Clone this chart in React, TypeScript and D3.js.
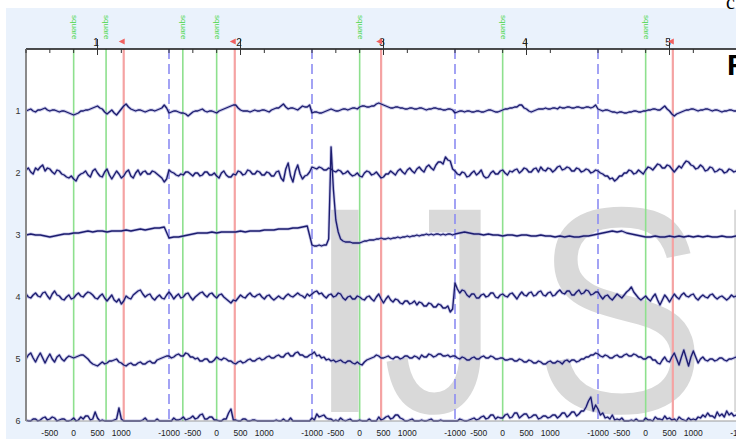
import React from 'react';
import * as d3 from 'd3';

const W = 736;
const H = 439;

const channelLabels = ['1', '2', '3', '4', '5', '6'];
const epochLabels = ['1', '2', '3', '4', '5'];
const tickTimes = [-1000, -500, 0, 500, 1000];
const epochSpan = 3000;
const epochsDrawn = 6;

const greenMarkers = [
  { epoch: 0, t: 0 }, { epoch: 0, t: 680 }, { epoch: 1, t: -710 }, { epoch: 1, t: 0 },
  { epoch: 2, t: 0 }, { epoch: 3, t: 0 }, { epoch: 4, t: 0 },
];
const redMarkers = [
  { epoch: 0, t: 1050 }, { epoch: 1, t: 380 }, { epoch: 2, t: 450 }, { epoch: 4, t: 570 },
];

// channel traces: one array per epoch (samples evenly spread over -1000..2000 ms)
const ch1 = [
  [0, 1, 2, 0, -1, 1, 1, 2, 3, 1, 0, 1, 1, 0, -1, 0, 0, -1, -2, -3, -4, -3, -2, 0, 0, 1, 1, 2, 3, 4,
    5, 3, 2, -1, -3, -1, 1, -2, -4, -1, 2, 5, 7, 4, 2, 1, 0, 1, 1, 0, -1, 0, 1, 1, 0, 1, 2, 3, 6, 3],
  [-2, -1, 0, 0, -1, -2, -2, -3, -5, -3, -1, 0, 0, 1, 2, 0, -1, 0, 0, -1, -2, 0, 1, 2, 3, 4, 5, 6, 6, 3,
    1, 0, 0, 0, -1, 0, 1, 0, 0, 1, 1, 0, -1, 1, 2, 3, 3, 5, 7, 4, 2, 3, 3, 2, 1, 3, 5, 4, 4, 6],
  [-2, -1, -1, -2, -2, -1, 0, 1, 2, 1, 0, 0, 1, 2, 2, 1, 2, 3, 3, 2, 4, 5, 5, 4, 4, 5, 5, 7, 8, 7,
    6, 5, 4, 3, 3, 4, 4, 3, 3, 2, 2, 3, 3, 2, 2, 3, 3, 2, 1, 2, 2, 3, 3, 2, 2, 1, 1, 2, 2, 1],
  [-2, -1, 0, 0, -1, 0, 0, -1, -1, 0, 0, -1, -1, 0, 1, 1, 0, -1, -1, 0, 1, 2, 2, 3, 3, 4, 4, 6, 6, 3,
    2, 0, -1, 0, 1, 2, 2, 2, 3, 2, 2, 3, 3, 2, 4, 3, 3, 4, 4, 3, 3, 4, 4, 3, 3, 4, 4, 3, 4, 6],
  [2, 1, 0, 1, 1, 0, -1, -1, -2, -1, -1, -2, -2, -1, -1, 0, 0, -1, -1, 0, 0, 1, 1, 2, 2, 1, 1, 3, 5, 2,
    0, -3, -5, -3, -2, -1, 0, 1, 1, 2, 2, 1, 0, 1, 1, 2, 2, 1, 0, 1, 1, 0, -1, 0, 0, 1, 1, 0, 0, 1],
  [0, 1],
];
const ch2 = [
  [3, 5, 1, -1, 5, 3, 6, 8, 2, 5, 4, 1, -1, 3, 2, -1, -2, -4, -5, -3, -6, -8, -3, -1, 0, 2, -2, -4, 2, 4,
    0, -3, -4, 1, 4, -2, -6, -2, 2, -1, -5, -3, 1, 3, -3, -5, 0, 3, -2, 1, 2, -1, -1, 2, 1, -1, -3, -5, -9, -6],
  [3, 1, 0, -2, -3, -1, -2, 1, 1, -1, -3, 0, 0, -3, -2, 1, 1, -2, -2, 0, -3, -5, 0, 2, -2, -4, -4, -1, -2, 2,
    1, -2, -1, 3, 2, -1, -1, 2, 1, -2, -2, 1, 0, -3, -3, 1, 2, -5, -8, 4, 10, -3, -9, 2, 8, -1, -6, -3, -2, 1],
  [6, 5, 4, 6, 5, 3, 3, 5, 4, 2, 1, 3, 2, -1, 0, 2, -1, -3, -2, 0, -3, -4, 0, 2, 1, -2, -1, 1, -2, -5,
    -4, -1, -1, 2, 0, -2, 2, 4, 1, -1, 3, 5, 2, 0, 4, 6, 3, 1, 6, 8, 5, 3, 8, 11, 11, 9, 16, 13, 12, 4],
  [2, -1, -2, 1, 0, -4, -3, 0, 2, -2, 0, 3, -3, -5, -4, 0, 2, -1, -1, 2, 3, 0, -2, 2, 1, 3, 4, 0, 2, 5,
    4, 1, 1, 4, 5, 1, 6, 3, 2, 5, 4, 1, 3, 6, 7, 3, 4, 6, 5, 2, 2, 5, 4, 1, 2, 4, 3, 0, 1, 3],
  [2, 0, -1, -3, -3, -6, -5, -8, -6, -3, -3, 0, 0, 3, 2, -1, 0, 3, 1, -1, 3, 6, 5, 3, 6, 9, 8, 5, 5, 8,
    7, 4, 1, 4, 7, 5, 9, 12, 11, 8, 7, 4, 5, 8, 6, 2, 3, 6, 5, 1, 2, 4, 3, 0, 1, 4, 3, 1, 2, 3],
  [2, 1],
];
const ch3 = [
  [0, 1, 0, 0, -1, -2, -1, 0, 1, 1, 2, 2, 3, 4, 3, 4, 4, 3, 4, 4, 4, 5, 4, 5, 6, 5, 6, 7, 7, 8],
  [-3, -2, -2, -1, 0, 1, 2, 2, 2, 3, 2, 3, 3, 3, 3, 4, 3, 4, 4, 4, 5, 5, 5, 6, 6, 6, 7, 7, 8, 9],
  [-10, -11, -11, -10, -11, -10, -10, -4, 88, 45, 15, 3, -4, -6, -7, -7, -7, -8, -8, -8,
    -8, -7, -6, -6, -5, -5, -5, -4, -4, -3, -4, -4, -3, -4, -3, -3, -2, -3, -2, -2,
    -1, -2, -1, -1, 0, -1, 0, 0, 1, 0, 1, 0, 1, 1, 0, 1, 0, 1, 1, 0],
  [1, 2, 3, 2, 1, 1, 0, 1, 0, 0, -1, 0, 0, -1, 0, 0, -1, -1, 0, -1, -1, -2, -1, -2, -1, -2, -2, -1, -1, 0],
  [1, 2, 3, 4, 3, 4, 2, 1, 0, -1, -2, -2, -1, -2, -2, -1, -2, -1, -2, -1, -2, -1, -2, -1, -2, -2, -1, -2, -2, -1],
  [-1, -1],
];
const ch4 = [
  [3, 0, -1, 2, 4, 1, 0, 4, 5, 1, -2, 3, 6, 2, 1, -2, -3, 0, 2, -2, -1, 2, 4, 1, 0, 3, 5, 4, 2, -1,
    -2, 1, 3, -1, -4, -1, 2, -3, -5, -2, -7, -4, 1, -1, -2, 2, 4, 6, 7, 3, 0, 2, 3, -1, -3, 0, 2, -1, -2, 2],
  [5, 2, -2, 1, 3, -1, 0, 3, 4, 0, -3, 0, 2, 4, 5, 2, 0, 3, 4, 1, -1, 2, 3, 0, -2, -4, -6, -3, -4, -1,
    2, 0, -1, 2, 4, 1, 0, 2, 3, 0, -2, 1, 2, -1, -3, -1, 1, -1, -2, 1, 3, 1, 0, 2, 4, 2, 1, -1, 3, 1],
  [3, 5, 6, 3, 4, 1, -1, 2, 3, 0, 1, 4, 3, -1, -3, 0, 1, -2, -2, 1, 0, -2, -3, 0, 1, -2, -4, 0, 3, -2,
    -6, -2, 1, -3, -5, -2, -3, -6, -7, -4, -4, -7, -6, -4, -8, -5, -6, -9, -9, -6, -7, -10, -10, -7, -8, -11, -11, -9, -15, -12],
  [14, 8, 4, 7, 6, 2, 0, 3, 3, -1, -1, 2, 3, 0, 1, 4, 4, 0, -1, 2, 3, 1, 0, 3, 4, 1, -2, 2, 5, 2,
    1, 4, 5, 1, 2, 5, 6, 2, 1, 4, 5, 1, 2, 5, 7, 4, 3, 6, 6, 2, 2, 5, 7, 3, 4, 7, 6, 2, 3, 5],
  [5, 1, -2, 1, 2, -1, -3, 0, 3, 1, -1, 2, 5, 7, 10, 5, 2, -1, -3, -1, 1, -2, -4, 0, 3, -3, -8, -3, 2, -1,
    -5, -1, 3, 0, -2, 2, 4, 1, 0, 2, 3, -1, -3, 0, 2, 0, -1, 2, 3, 0, -2, 0, 1, -1, -3, -1, 2, 0, 1, 2],
  [1, 0],
];
const ch5 = [
  [0, 4, 6, 1, -3, 2, 6, 1, -4, 1, 5, 0, -3, 2, 4, 0, -2, 1, 3, 2, 1, 2, 3, 4, 4, 2, 0, -3, -5, -6,
    -7, -5, -3, -5, -4, -2, -2, -1, 0, -3, -4, -6, -7, -5, -4, -6, -6, -4, -3, -5, -5, -3, -2, -4, -4, -1, 0, 1, 2, 3],
  [3, 1, 2, 4, 5, 3, 3, 6, 5, 2, 2, 0, 1, -2, -2, 0, 0, -3, -3, -1, 2, 0, -1, 1, 0, -2, -2, -4, -5, -3,
    -2, -4, -3, -1, 0, -2, -2, 0, 1, -1, 0, 2, 3, 1, 1, 3, 4, 2, 2, 5, 6, 3, 3, 6, 7, 4, 4, 2, 2, 4],
  [5, 7, 3, 4, 1, 2, -1, 0, -2, -1, -3, -2, -1, -3, -4, -2, -2, -4, -5, -3, -5, -6, -3, -1, 0, 1, 2, 4, 3, 1,
    1, 2, 3, 1, 0, 2, 2, 0, 1, 3, 3, 1, 1, 3, 2, 0, 4, 2, 2, 5, 4, 2, 3, 5, 5, 3, 3, 4, 2, 3],
  [3, 1, 0, 2, 1, -1, -1, 1, 2, 0, 0, 2, 3, 1, 1, 3, 2, 0, 0, 1, 1, -1, -1, 0, 0, -2, -2, 0, -1, -3,
    -3, -1, -2, -4, -4, -2, -3, -5, -5, -3, -2, -4, -4, -2, -3, -5, -2, -1, -3, -1, -1, -3, -2, 0, 0, 2, 2, 4, 4, 6],
  [5, 3, 2, 4, 3, 1, 1, 3, 4, 2, 2, 4, 5, 3, 3, 5, 4, 2, 2, 0, 0, 2, 2, -1, -1, -4, -5, -1, 2, -2,
    -3, 2, 6, 0, -6, 2, 9, 1, -7, 2, 8, 2, -4, 0, 2, -1, -2, 0, 0, -2, -1, 1, 1, -1, -2, 0, 0, 1, 2, 1],
  [2, 1],
];
const ch6 = [
  [1, 0, 0, 2, 2, 0, 1, 3, 4, 1, 2, 4, 3, 0, 1, 2, 2, 0, 0, 1, 3, 0, 1, 4, 2, 5, 5, 1, 2, 9,
    3, 0, 1, 0, 0, 0, 0, 1, 2, 13, 2, 0, 0, 0, 0, 0, 0, 0, 0, 1, 3, 0, 0, 0, 0, 2, 0, 0, 0, 0],
  [0, 0, 3, 1, 1, 2, 4, 1, 2, 3, 5, 2, 3, 6, 7, 2, 2, 4, 4, 1, 1, 0, 0, 2, 2, 8, 12, 1, 1, 0,
    0, 2, 2, 0, 0, 1, 1, 0, 0, 0, 0, 0, 0, 0, 0, 1, 0, 0, 2, 0, 0, 3, 0, 0, 0, 0, 0, 0, 0, 0],
  [3, 1, 7, 4, 5, 6, 3, 2, 2, 0, 1, 0, 3, 1, 0, 1, 2, 0, 0, 0, 1, 0, 0, 0, 2, 0, 0, 0, 4, 1,
    2, 4, 5, 2, 3, 6, 6, 3, 2, 0, 0, 1, 2, 0, 0, 0, 1, 0, 0, 1, 2, 0, 0, 0, 1, 0, 0, 0, 0, 0],
  [0, 0, 2, 1, 0, 0, 1, 2, 3, 1, 2, 4, 5, 2, 3, 6, 6, 2, 4, 3, 3, 6, 7, 3, 4, 8, 8, 3, 5, 7,
    7, 3, 4, 6, 6, 2, 3, 5, 5, 3, 4, 6, 6, 3, 5, 8, 8, 4, 6, 9, 9, 5, 7, 10, 10, 14, 20, 24, 10, 16],
  [12, 6, 8, 3, 4, 2, 6, 1, 2, 1, 3, 0, 0, 0, 1, 0, 2, 0, 0, 0, 3, 1, 1, 0, 4, 2, 2, 1, 5, 2,
    3, 1, 2, 0, 4, 2, 1, 0, 3, 1, 2, 1, 4, 3, 6, 4, 8, 5, 5, 3, 9, 5, 7, 4, 10, 6, 8, 5, 6, 4],
  [6, 4],
];
const traces = [ch1, ch2, ch3, ch4, ch5, ch6];

const FONT = "'Liberation Sans', Arial, sans-serif";

export default function App() {
  const plotLeft = 26;
  const plotTop = 49;
  const plotBottom = 421;
  const xScale = d3.scaleLinear().domain([0, 5 * epochSpan]).range([plotLeft, plotLeft + 5 * 143]);
  const gx = (k: number, t: number) => xScale(k * epochSpan + t + 1000);
  const chY = d3.scaleLinear().domain([0, 5]).range([111, 421]);
  const amp = d3.scaleLinear().domain([0, 10]).range([0, -10]);

  const line = d3.line<[number, number]>().x((d) => d[0]).y((d) => d[1]);

  const paths = traces.map((ch, c) => {
    const pts: [number, number][] = [];
    ch.forEach((arr, k) => {
      const n = k < 5 ? arr.length : ch[0].length;
      arr.forEach((v, i) => {
        const t = -1000 + (i * epochSpan) / n;
        pts.push([gx(k, t), chY(c) + amp(v)]);
      });
    });
    return line(pts) || '';
  });

  const epochs = d3.range(epochsDrawn);

  return (
    <svg width={W} height={H} style={{ position: 'absolute', left: 0, top: 0, display: 'block' }}>
      <defs>
        <clipPath id="plotClip">
          <rect x={plotLeft} y={plotTop} width={W - plotLeft} height={plotBottom - plotTop + 1} />
        </clipPath>
      </defs>
      <rect x={0} y={0} width={W} height={H} fill="#ffffff" />
      <rect x={6} y={8} width={W - 6} height={H - 8} fill="#eaf2fc" />
      <rect x={plotLeft} y={plotTop} width={W - plotLeft} height={plotBottom - plotTop} fill="#ffffff" />

      {/* watermark */}
      <g fill="#d9d9d9" fontFamily={FONT} fontSize={294} clipPath="url(#plotClip)">
        <text x={304} y={412}>I</text>
        <text transform="translate(383,412) scale(0.78,1)" x={0} y={0}>J</text>
        <text transform="translate(534,412) scale(0.88,1)" x={0} y={0}>S</text>
        <text x={710} y={412}>R</text>
      </g>

      {/* epoch boundaries and event markers */}
      {epochs.slice(1).map((k) => (
        <line key={'b' + k} x1={gx(k, -1000)} x2={gx(k, -1000)} y1={plotTop} y2={plotBottom}
          stroke="#8c8cf2" strokeWidth={1.6} strokeDasharray="10,5" />
      ))}
      {greenMarkers.map((m, i) => (
        <line key={'g' + i} x1={gx(m.epoch, m.t)} x2={gx(m.epoch, m.t)} y1={plotTop} y2={plotBottom}
          stroke="#8ee08e" strokeWidth={1.6} />
      ))}
      {redMarkers.map((m, i) => (
        <line key={'r' + i} x1={gx(m.epoch, m.t)} x2={gx(m.epoch, m.t)} y1={plotTop} y2={plotBottom}
          stroke="#f5a3a3" strokeWidth={2.2} />
      ))}

      {/* traces */}
      <g clipPath="url(#plotClip)" fill="none" strokeLinejoin="round">
        {paths.map((d, i) => (
          <path key={'h' + i} d={d} stroke="#9d9dd6" strokeWidth={3} opacity={0.6} />
        ))}
        {paths.map((d, i) => (
          <path key={'p' + i} d={d} stroke="#1c1c6e" strokeWidth={1.35} />
        ))}
      </g>

      {/* axes */}
      <line x1={plotLeft} x2={W} y1={plotTop} y2={plotTop} stroke="#111" strokeWidth={1.5} />
      <line x1={plotLeft} x2={plotLeft} y1={plotTop} y2={plotBottom} stroke="#8a8a8a" strokeWidth={2} />
      <line x1={plotLeft} x2={W} y1={plotBottom} y2={plotBottom} stroke="#9a9a9a" strokeWidth={1} />

      {epochs.map((k) =>
        tickTimes.map((t) => (
          <line key={'tt' + k + t} x1={gx(k, t)} x2={gx(k, t)} y1={plotTop} y2={plotTop + 4}
            stroke="#333" strokeWidth={1} />
        ))
      )}
      {epochLabels.map((lab, k) => (
        <g key={'el' + k}>
          <line x1={gx(k, 500)} x2={gx(k, 500)} y1={39} y2={55} stroke="#333" strokeWidth={1} />
          <text x={gx(k, 500) - 1.5} y={46} fontFamily={FONT} fontSize={10} textAnchor="middle" fill="#222">{lab}</text>
        </g>
      ))}

      {/* marker labels */}
      {greenMarkers.map((m, i) => (
        <text key={'gl' + i} transform={`translate(${gx(m.epoch, m.t)},15) rotate(90)`}
          fontFamily={FONT} fontSize={8} fill="#4fd84f" dominantBaseline="middle">square</text>
      ))}
      {redMarkers.map((m, i) => {
        const x = gx(m.epoch, m.t);
        return <polygon key={'rf' + i} points={`${x - 5},41.5 ${x + 1},38.5 ${x + 1},44.5`} fill="#f06060" />;
      })}

      {/* channel labels */}
      {channelLabels.map((lab, c) => (
        <text key={'cl' + c} x={18} y={chY(c) + 3} fontFamily={FONT} fontSize={9} textAnchor="middle" fill="#333">{lab}</text>
      ))}

      {/* bottom tick labels */}
      {epochs.map((k) =>
        tickTimes
          .filter((t) => !(k === 0 && t === -1000))
          .map((t) => (
            <text key={'bl' + k + t} x={gx(k, t)} y={436} fontFamily={FONT} fontSize={8.5}
              textAnchor="middle" fill="#222">{String(t)}</text>
          ))
      )}

      <text x={727} y={75} fontFamily={FONT} fontSize={30} fontWeight="bold" fill="#000">F</text>
      <text x={726} y={9} fontFamily="'Liberation Serif', serif" fontSize={20} fill="#000">c</text>
    </svg>
  );
}
